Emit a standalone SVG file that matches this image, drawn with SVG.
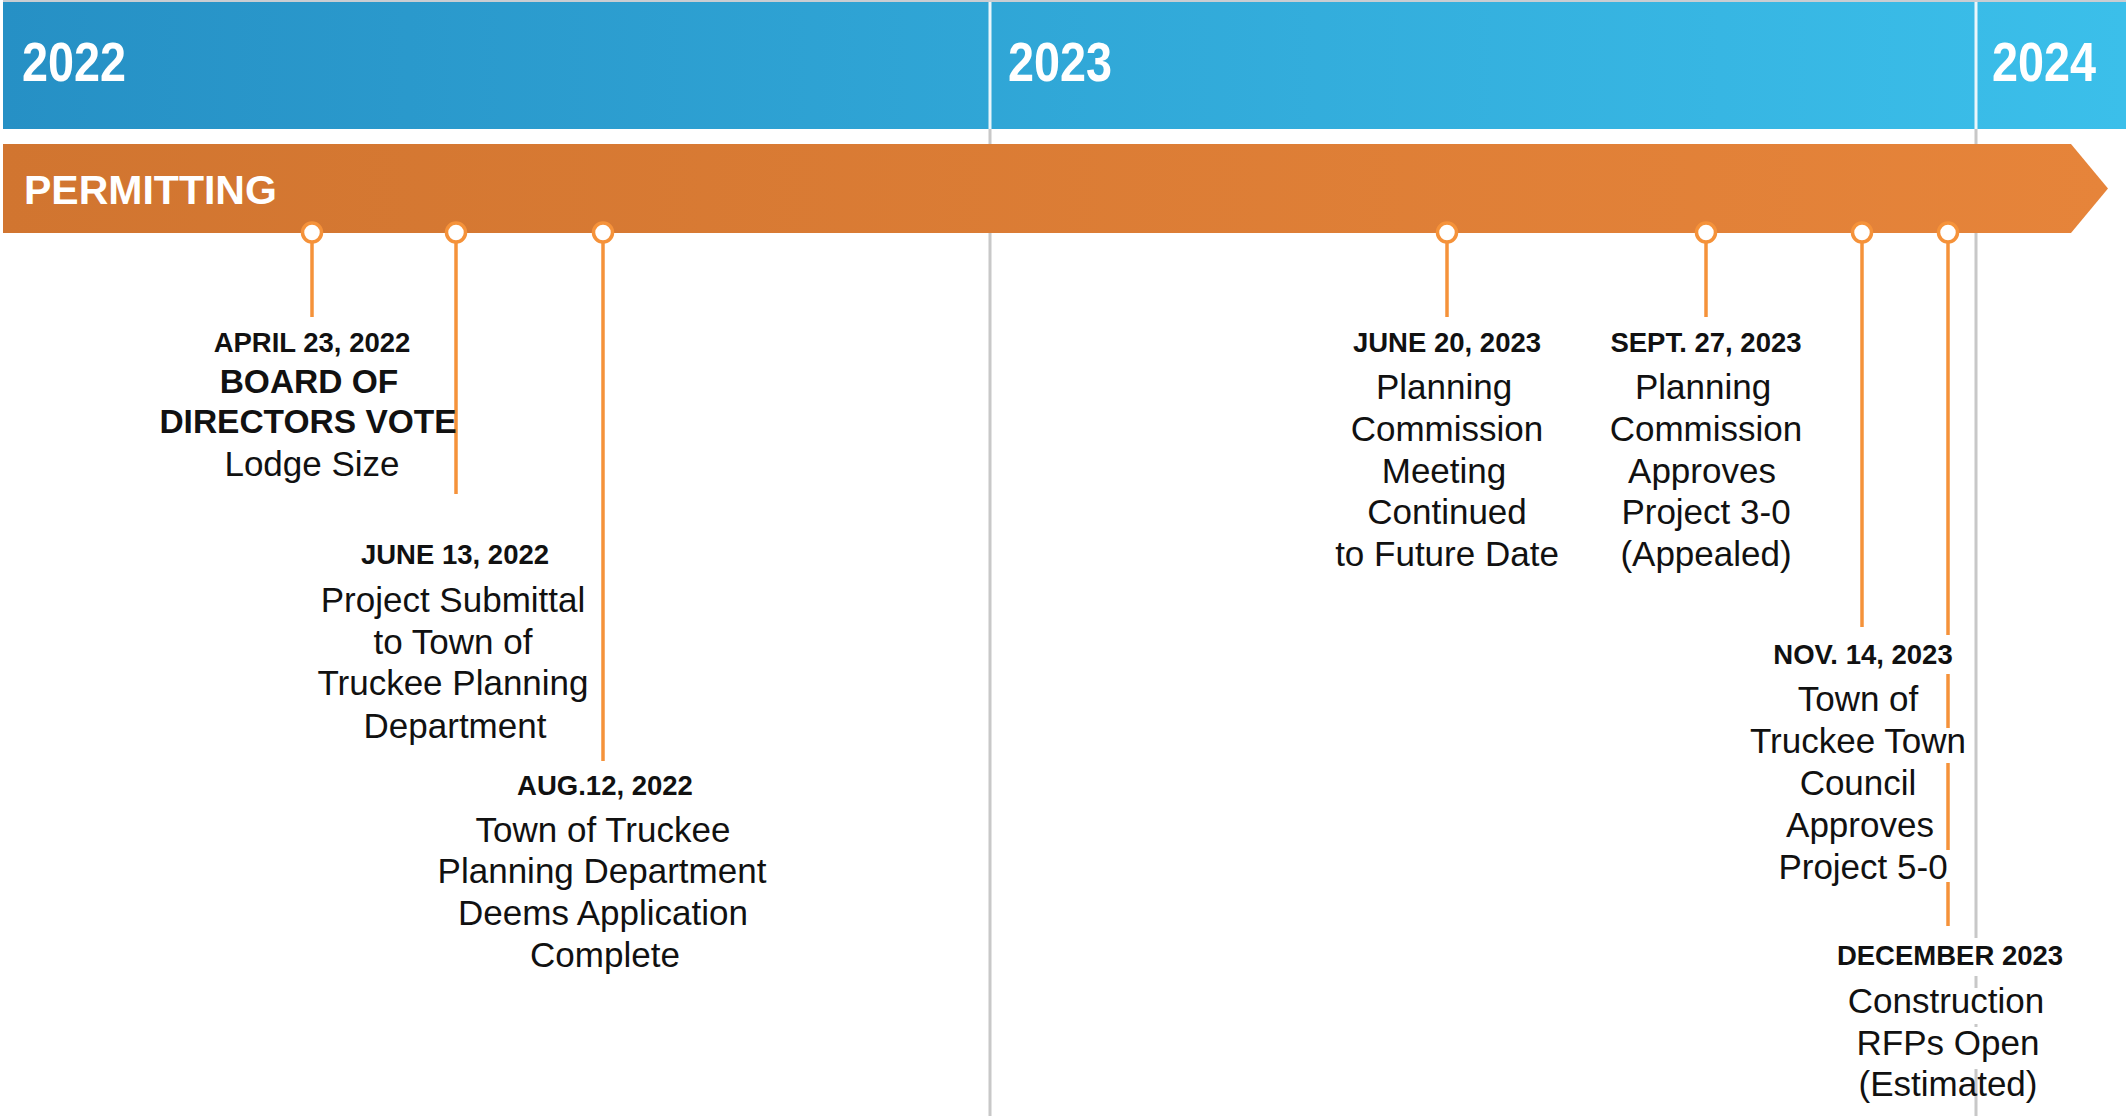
<svg xmlns="http://www.w3.org/2000/svg" width="2126" height="1116" viewBox="0 0 2126 1116">
  <defs>
    <linearGradient id="yearGrad" x1="0" y1="0" x2="1" y2="0">
      <stop offset="0" stop-color="#2690C5"/>
      <stop offset="1" stop-color="#3BBFEA"/>
    </linearGradient>
    <linearGradient id="phaseGrad" x1="0" y1="0" x2="1" y2="0">
      <stop offset="0" stop-color="#D17530"/>
      <stop offset="1" stop-color="#E6843A"/>
    </linearGradient>
    <style>
      .year { font-family: "Liberation Sans", Arial, sans-serif; font-weight: bold; font-size: 55px; fill: #ffffff; }
      .phase { font-family: "Liberation Sans", Arial, sans-serif; font-weight: bold; font-size: 41px; fill: #ffffff; }
      .divider { stroke: #C8C8C8; stroke-width: 3; }
      .divider-top { stroke: #EAF6FB; stroke-width: 3; }
      .stem { stroke: #F5923A; stroke-width: 3.5; fill: none; }
      .dot { fill: #ffffff; stroke: #F5923A; stroke-width: 3.5; }
      .date { font-family: "Liberation Sans", Arial, sans-serif; font-weight: bold; font-size: 27.5px; fill: #111111; text-anchor: middle; }
      .head { font-family: "Liberation Sans", Arial, sans-serif; font-weight: bold; font-size: 33.5px; fill: #111111; text-anchor: middle; }
      .body { font-family: "Liberation Sans", Arial, sans-serif; font-size: 35px; fill: #111111; text-anchor: middle; }
      .knockout { fill: #ffffff; }
    </style>
  </defs>

  <!-- year band -->
  <g id="years">
    <rect x="3" y="0" width="2123" height="2" fill="#C9CDD2"/>
    <rect x="3" y="2" width="2123" height="127" fill="url(#yearGrad)"/>
    <line class="divider" x1="990" y1="129" x2="990" y2="1116"/>
    <line class="divider" x1="1976" y1="129" x2="1976" y2="1116"/>
    <line class="divider-top" x1="990" y1="2" x2="990" y2="129"/>
    <line class="divider-top" x1="1976" y1="2" x2="1976" y2="129"/>
    <text class="year" transform="translate(22,81) scale(0.85,1)">2022</text>
    <text class="year" transform="translate(1008,81) scale(0.85,1)">2023</text>
    <text class="year" transform="translate(1992,81) scale(0.85,1)">2024</text>
  </g>

  <!-- permitting phase arrow -->
  <g id="phase-permitting">
    <path d="M3 144 H2071 L2108 188.5 L2071 233 H3 Z" fill="url(#phaseGrad)"/>
    <text class="phase" x="24" y="204">PERMITTING</text>
  </g>

  <!-- milestone stems -->
  <g id="connectors">
    <line class="stem" x1="312" y1="240" x2="312" y2="317"/>
    <line class="stem" x1="456" y1="240" x2="456" y2="494"/>
    <line class="stem" x1="603" y1="240" x2="603" y2="761"/>
    <line class="stem" x1="1447" y1="240" x2="1447" y2="317"/>
    <line class="stem" x1="1706" y1="240" x2="1706" y2="317"/>
    <line class="stem" x1="1862" y1="240" x2="1862" y2="627"/>
    <line class="stem" x1="1948" y1="240" x2="1948" y2="926"/>
    <circle class="dot" cx="312" cy="232.5" r="9.5"/>
    <circle class="dot" cx="456" cy="232.5" r="9.5"/>
    <circle class="dot" cx="603" cy="232.5" r="9.5"/>
    <circle class="dot" cx="1447" cy="232.5" r="9.5"/>
    <circle class="dot" cx="1706" cy="232.5" r="9.5"/>
    <circle class="dot" cx="1862" cy="232.5" r="9.5"/>
    <circle class="dot" cx="1948" cy="232.5" r="9.5"/>
  </g>

  <g id="m-2022-04-23">
    <text class="date" x="312" y="352">APRIL 23, 2022</text>
    <text class="head" x="309" y="393">BOARD OF</text>
    <text class="head" x="308" y="433">DIRECTORS VOTE</text>
    <text class="body" x="312" y="476">Lodge Size</text>
  </g>

  <g id="m-2022-06-13">
    <text class="date" x="455" y="564">JUNE 13, 2022</text>
    <text class="body" x="453" y="612">Project Submittal</text>
    <text class="body" x="453" y="654">to Town of</text>
    <text class="body" x="453" y="695">Truckee Planning</text>
    <text class="body" x="455" y="738">Department</text>
  </g>

  <g id="m-2022-08-12">
    <text class="date" x="605" y="795">AUG.12, 2022</text>
    <text class="body" x="603" y="842">Town of Truckee</text>
    <text class="body" x="602" y="883">Planning Department</text>
    <text class="body" x="603" y="925">Deems Application</text>
    <text class="body" x="605" y="967">Complete</text>
  </g>

  <g id="m-2023-06-20">
    <text class="date" x="1447" y="352">JUNE 20, 2023</text>
    <text class="body" x="1444" y="399">Planning</text>
    <text class="body" x="1447" y="441">Commission</text>
    <text class="body" x="1444" y="483">Meeting</text>
    <text class="body" x="1447" y="524">Continued</text>
    <text class="body" x="1447" y="566">to Future Date</text>
  </g>

  <g id="m-2023-09-27">
    <text class="date" x="1706" y="352">SEPT. 27, 2023</text>
    <text class="body" x="1703" y="399">Planning</text>
    <text class="body" x="1706" y="441">Commission</text>
    <text class="body" x="1702" y="483">Approves</text>
    <text class="body" x="1706" y="524">Project 3-0</text>
    <text class="body" x="1706" y="566">(Appealed)</text>
  </g>

  <g id="m-2023-11-14">
    <rect class="knockout" x="1768" y="635" width="192" height="39"/>
    <rect class="knockout" x="1748" y="728" width="220" height="35"/>
    <rect class="knockout" x="1776" y="850" width="176" height="32"/>
    <text class="date" x="1863" y="664">NOV. 14, 2023</text>
    <text class="body" x="1858" y="711">Town of</text>
    <text class="body" x="1858" y="753">Truckee Town</text>
    <text class="body" x="1858" y="795">Council</text>
    <text class="body" x="1860" y="837">Approves</text>
    <text class="body" x="1863" y="879">Project 5-0</text>
  </g>

  <g id="m-2023-12">
    <rect class="knockout" x="1838" y="938" width="226" height="38"/>
    <rect class="knockout" x="1843" y="988" width="207" height="36"/>
    <rect class="knockout" x="1868" y="1027" width="164" height="42"/>
    <text class="date" x="1950" y="965">DECEMBER 2023</text>
    <text class="body" x="1946" y="1013">Construction</text>
    <text class="body" x="1948" y="1055">RFPs Open</text>
    <text class="body" x="1948" y="1096">(Estimated)</text>
  </g>
</svg>
